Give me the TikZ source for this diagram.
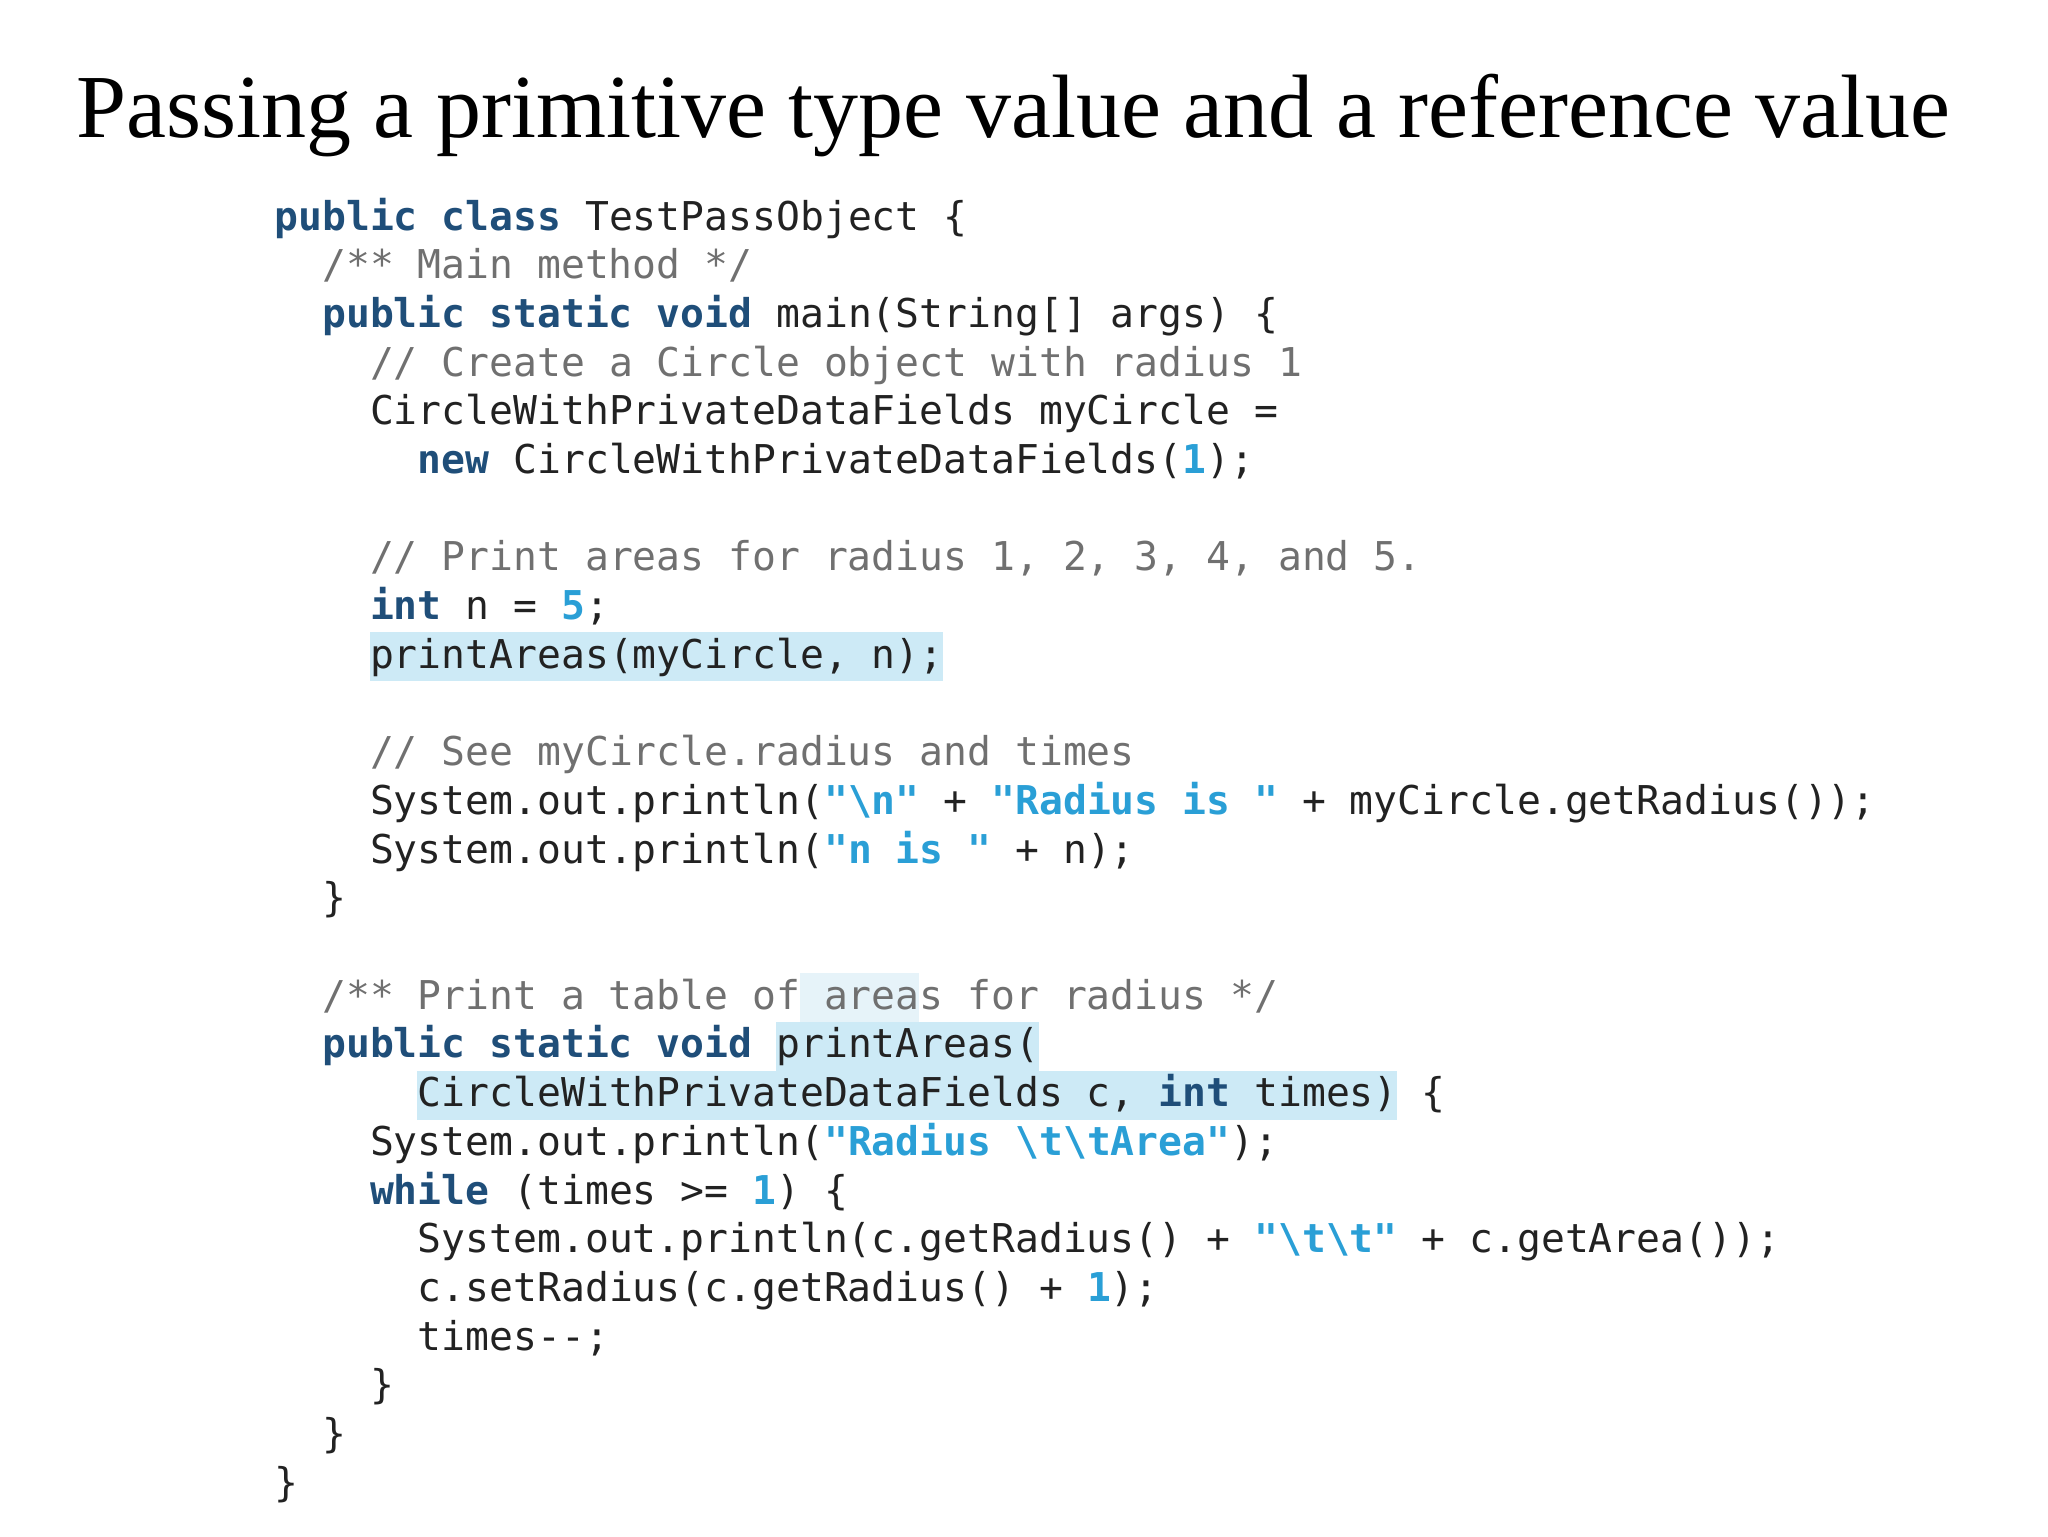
\documentclass[tikz,border=0pt]{standalone}
\usepackage{fontspec}
\setmainfont{Liberation Serif}
\newfontfamily\codefont{DejaVu Sans Mono}
\definecolor{kwc}{HTML}{1F4E79}
\definecolor{litc}{HTML}{2A9FD6}
\definecolor{cmc}{HTML}{707070}
\definecolor{txc}{HTML}{222222}
\definecolor{hlc}{HTML}{CDEAF6}
\definecolor{hlf}{HTML}{E6F3F9}
\newcommand{\kw}[1]{\textcolor{kwc}{\bfseries #1}}
\newcommand{\lit}[1]{\textcolor{litc}{\bfseries #1}}
\newcommand{\cm}[1]{\textcolor{cmc}{#1}}
\newcommand{\bs}{\textbackslash}
\tikzset{codeline/.style={anchor=base west,inner sep=0pt,font=\codefont\fontsize{19.85pt}{24pt}\selectfont,text=txc},
 hl/.style={fill=hlc,draw=none}}
\newcommand{\cx}[1]{{137pt+#1*11.95pt}}
\newcommand{\cy}[1]{{-115pt-#1*24.35pt}}
\newcommand{\cl}[4]{\node[codeline] (#1) at (\cx{#2},\cy{#3}) {#4};}
\newcommand{\hlbox}[4]{\fill[#4] ({137pt+#1*11.95pt},{-115pt-#3*24.35pt-6.5pt}) rectangle ({137pt+#2*11.95pt},{-115pt-#3*24.35pt+18pt});}
\begin{document}
\begin{tikzpicture}
\useasboundingbox (0,0) rectangle (1024pt,-768pt);
\node[anchor=base west,inner sep=0pt,font=\fontsize{45pt}{50pt}\selectfont] (title) at (38pt,-68.5pt) {Passing a primitive type value and a reference value};
\hlbox{4}{28}{9}{hlc}
\hlbox{21}{32}{17}{hlc}
\hlbox{6}{47}{18}{hlc}
\hlbox{22}{27}{16}{hlf}
\cl{l0}{0}{0}{\kw{public class} TestPassObject \{}
\cl{l1}{2}{1}{\cm{/** Main method */}}
\cl{l2}{2}{2}{\kw{public static void} main(String[] args) \{}
\cl{l3}{4}{3}{\cm{// Create a Circle object with radius 1}}
\cl{l4}{4}{4}{CircleWithPrivateDataFields myCircle =}
\cl{l5}{6}{5}{\kw{new} CircleWithPrivateDataFields(\lit{1});}
\cl{l7}{4}{7}{\cm{// Print areas for radius 1, 2, 3, 4, and 5.}}
\cl{l8}{4}{8}{\kw{int} n = \lit{5};}
\cl{l9}{4}{9}{printAreas(myCircle, n);}
\cl{l11}{4}{11}{\cm{// See myCircle.radius and times}}
\cl{l12}{4}{12}{System.out.println(\lit{"\bs n"} + \lit{"Radius is "} + myCircle.getRadius());}
\cl{l13}{4}{13}{System.out.println(\lit{"n is "} + n);}
\cl{l14}{2}{14}{\}}
\cl{l16}{2}{16}{\cm{/** Print a table of areas for radius */}}
\cl{l17}{2}{17}{\kw{public static void} printAreas(}
\cl{l18}{6}{18}{CircleWithPrivateDataFields c, \kw{int} times) \{}
\cl{l19}{4}{19}{System.out.println(\lit{"Radius \bs t\bs tArea"});}
\cl{l20}{4}{20}{\kw{while} (times >= \lit{1}) \{}
\cl{l21}{6}{21}{System.out.println(c.getRadius() + \lit{"\bs t\bs t"} + c.getArea());}
\cl{l22}{6}{22}{c.setRadius(c.getRadius() + \lit{1});}
\cl{l23}{6}{23}{times--;}
\cl{l24}{4}{24}{\}}
\cl{l25}{2}{25}{\}}
\cl{l26}{0}{26}{\}}
\end{tikzpicture}
\end{document}
